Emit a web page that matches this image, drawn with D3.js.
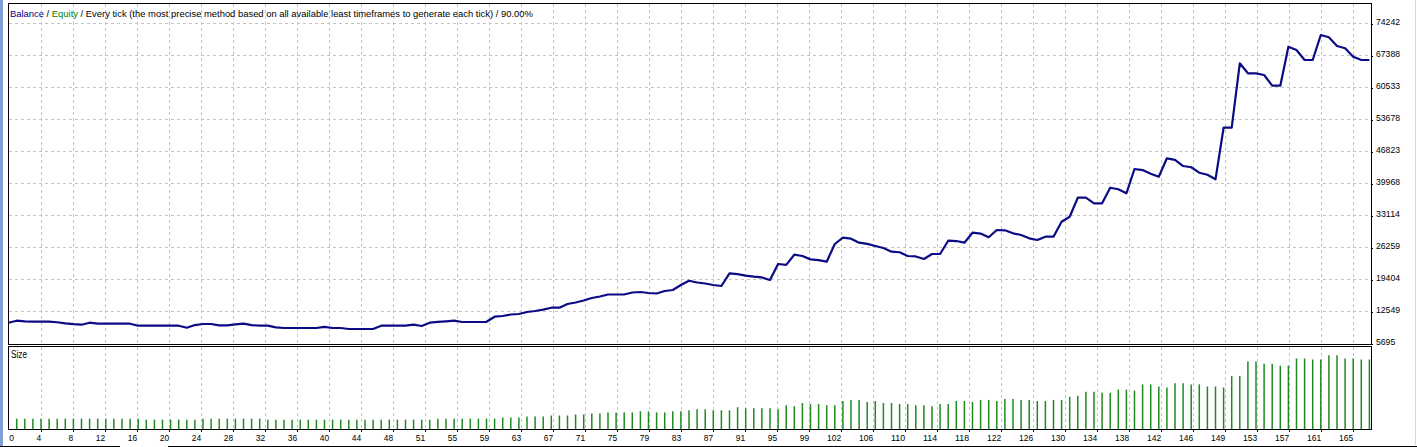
<!DOCTYPE html>
<html>
<head>
<meta charset="utf-8">
<script src="https://cdn.jsdelivr.net/npm/d3@7"></script>
<style>
  body { margin: 0; background: #ffffff; }
  svg { display: block; font-family: "Liberation Sans", Arial, sans-serif; }
</style>
</head>
<body>
<svg id="drawing_region"></svg>
<script>
// balance after each trade (index 0 = start)
const balance = [
    10107, 10536, 10400, 10322, 10322, 10322, 10200, 9979, 9800, 9679,
    10107, 9893, 9893, 9893, 9893, 9893, 9465, 9465, 9465, 9465,
    9465, 9465, 9037, 9600, 9829, 9829, 9551, 9551, 9750, 9893,
    9600, 9465, 9465, 9100, 8972, 8972, 8972, 8972, 8972, 9200,
    8972, 8972, 8758, 8758, 8758, 8758, 9465, 9465, 9465, 9465,
    9679, 9401, 10107, 10300, 10400, 10536, 10258, 10258, 10258, 10300,
    11393, 11543, 11865, 11971, 12400, 12614, 12900, 13321, 13321, 14113,
    14434, 14862, 15400, 15720, 16148, 16148, 16148, 16577, 16684, 16470,
    16362, 16898, 17112, 18183, 19104, 18718, 18504, 18183, 17968, 20689,
    20500, 20200, 19961, 19800, 19254, 22680, 22500, 24673, 24400, 23670,
    23500, 23174, 26965, 28314, 28100, 27244, 27000, 26536, 26100, 25316,
    25200, 24395, 24300, 23752, 24823, 24823, 27672, 27600, 27244, 29386,
    29200, 28400, 29964, 29900, 29257, 28900, 28185, 27822, 28528, 28528,
    31741, 32812, 36883, 36883, 35682, 35682, 39024, 38700, 37825, 43030,
    42800, 42000, 41381, 45322, 45000, 43673, 43400, 42238, 41800, 40823,
    51877, 51877, 65671, 63529, 63529, 63165, 60873, 60873, 69227, 68520,
    66378, 66378, 71730, 71240, 69378, 68884, 67083, 66378, 66378
];

// lot size of trades 1..168
const lotSize = [
    0.10, 0.10, 0.10, 0.10, 0.10, 0.10, 0.10, 0.10, 0.10, 0.10,
    0.10, 0.10, 0.10, 0.10, 0.10, 0.10, 0.09, 0.09, 0.09, 0.09,
    0.09, 0.09, 0.09, 0.10, 0.10, 0.10, 0.10, 0.10, 0.10, 0.10,
    0.10, 0.09, 0.09, 0.09, 0.09, 0.09, 0.09, 0.09, 0.09, 0.09,
    0.09, 0.09, 0.09, 0.09, 0.09, 0.09, 0.09, 0.09, 0.09, 0.09,
    0.09, 0.09, 0.10, 0.10, 0.10, 0.10, 0.10, 0.10, 0.10, 0.10,
    0.11, 0.11, 0.11, 0.12, 0.12, 0.12, 0.13, 0.13, 0.13, 0.14,
    0.14, 0.15, 0.15, 0.16, 0.16, 0.16, 0.16, 0.17, 0.17, 0.16,
    0.16, 0.17, 0.17, 0.18, 0.19, 0.19, 0.18, 0.18, 0.18, 0.21,
    0.20, 0.20, 0.20, 0.20, 0.19, 0.23, 0.22, 0.25, 0.24, 0.24,
    0.23, 0.23, 0.27, 0.28, 0.28, 0.26, 0.27, 0.25, 0.25, 0.24,
    0.24, 0.23, 0.23, 0.22, 0.24, 0.24, 0.27, 0.27, 0.26, 0.28,
    0.28, 0.27, 0.29, 0.29, 0.28, 0.28, 0.27, 0.27, 0.28, 0.28,
    0.31, 0.32, 0.36, 0.36, 0.35, 0.35, 0.38, 0.38, 0.37, 0.43,
    0.43, 0.41, 0.40, 0.44, 0.44, 0.43, 0.43, 0.41, 0.41, 0.40,
    0.51, 0.51, 0.65, 0.65, 0.63, 0.63, 0.61, 0.61, 0.68, 0.68,
    0.67, 0.67, 0.71, 0.71, 0.68, 0.68, 0.67, 0.67
];

const yTickValues = [5695, 12549, 19404, 26259, 33114, 39968, 46823, 53678, 60533, 67388, 74242];

const xTickLabels = [0, 4, 8, 12, 16, 20, 24, 28, 32, 36, 40, 44, 48,
    51, 55, 59, 63, 67, 71, 75, 79, 83, 87, 91, 95, 99,
    102, 106, 110, 114, 118, 122, 126, 130, 134, 138, 142, 146,
    149, 153, 157, 161, 165];

const headerParts = [
    { text: 'Balance', color: '#00007f' },
    { text: ' / ', color: '#000000' },
    { text: 'Equity', color: '#008000' },
    { text: ' / Every tick (the most precise method based on all available least timeframes to generate each tick) / 90.00%', color: '#000000' }
];

class TesterGraph {
    constructor(config, data) {
        this.config = {
            parent: config.parent,
            width: config.width || 1417,
            height: config.height || 447,
            main: config.main,
            size: config.size
        };
        this.data = data;
        this.init();
    }

    init() {
        let self = this;
        const m = self.config.main;
        const s = self.config.size;

        self.svg = d3.select(self.config.parent)
            .attr('width', self.config.width)
            .attr('height', self.config.height);

        self.xscale = d3.scaleLinear()
            .domain([0, self.data.balance.length - 1])
            .range([m.left + 0.6, m.right - 1.6]);

        self.gridscale = d3.scaleLinear()
            .domain([0, self.data.xLabels.length - 1])
            .range([m.left + 0.7, m.left + 0.7 + 32 * (self.data.xLabels.length - 1)]);

        self.yscale = d3.scaleLinear()
            .domain([yTickValues[0], yTickValues[yTickValues.length - 1]])
            .range([m.bottom - 0.7, 23.3]);

        self.sizescale = d3.scaleLinear()
            .domain([0, 0.8])
            .range([s.bottom, s.top]);
    }

    render() {
        let self = this;
        const m = self.config.main;
        const s = self.config.size;
        const crisp = v => Math.round(v) + 0.5;

        // window chrome
        self.svg.append('rect')
            .attr('x', 0).attr('y', 0).attr('width', 3).attr('height', self.config.height)
            .attr('fill', '#7f9fd4');
        self.svg.append('line')
            .attr('x1', 1415.5).attr('x2', 1415.5).attr('y1', 0).attr('y2', 445)
            .attr('stroke', '#d8d8d8');
        [[0, 120], [168, 1417]].forEach(seg => {
            self.svg.append('line')
                .attr('x1', seg[0]).attr('x2', seg[1]).attr('y1', 446.5).attr('y2', 446.5)
                .attr('stroke', '#000');
        });

        const grid = self.svg.append('g')
            .attr('stroke', '#c4c4c4')
            .attr('stroke-dasharray', '3,3');

        grid.selectAll('.hgrid')
            .data(yTickValues.slice(1))
            .enter().append('line')
            .attr('x1', m.left + 1).attr('x2', m.right)
            .attr('y1', d => crisp(self.yscale(d)))
            .attr('y2', d => crisp(self.yscale(d)));

        const kIdx = d3.range(1, self.data.xLabels.length);
        grid.selectAll('.vgrid')
            .data(kIdx)
            .enter().append('line')
            .attr('x1', k => crisp(self.gridscale(k)))
            .attr('x2', k => crisp(self.gridscale(k)))
            .attr('y1', m.top + 1).attr('y2', m.bottom);
        grid.selectAll('.vgrid2')
            .data(kIdx)
            .enter().append('line')
            .attr('x1', k => crisp(self.gridscale(k)))
            .attr('x2', k => crisp(self.gridscale(k)))
            .attr('y1', s.top + 1).attr('y2', s.bottom);

        // size histogram
        self.svg.append('g').selectAll('line')
            .data(self.data.lots)
            .enter().append('line')
            .attr('x1', (d, i) => self.xscale(i + 1))
            .attr('x2', (d, i) => self.xscale(i + 1))
            .attr('y1', self.sizescale(0))
            .attr('y2', d => self.sizescale(d))
            .attr('stroke', '#1f8a1f')
            .attr('stroke-width', 1.5);

        // balance line
        const line = d3.line()
            .x((d, i) => self.xscale(i))
            .y(d => self.yscale(d));
        self.svg.append('path')
            .datum(self.data.balance)
            .attr('d', line)
            .attr('fill', 'none')
            .attr('stroke', '#0b0b85')
            .attr('stroke-width', 2.2)
            .attr('stroke-linejoin', 'round');

        // frames
        self.svg.append('rect')
            .attr('x', m.left + 0.5).attr('y', m.top + 0.5)
            .attr('width', m.right - m.left).attr('height', m.bottom - m.top)
            .attr('fill', 'none').attr('stroke', '#000');
        self.svg.append('rect')
            .attr('x', m.left + 0.5).attr('y', s.top + 0.5)
            .attr('width', m.right - m.left).attr('height', s.bottom - s.top)
            .attr('fill', 'none').attr('stroke', '#000');

        // y labels
        const ylab = self.svg.append('g');
        yTickValues.forEach(v => {
            const cy = self.yscale(v) - 2;
            ylab.append('rect')
                .attr('x', m.right + 1).attr('y', Math.round(cy + 2.5))
                .attr('width', 1).attr('height', 1).attr('fill', '#000');
            ylab.append('text')
                .attr('x', m.right + 5)
                .attr('y', cy + 3.6)
                .attr('font-size', '9.6px')
                .attr('fill', '#000')
                .attr('textLength', String(v).length * 4.8)
                .attr('lengthAdjust', 'spacingAndGlyphs')
                .text(v);
        });

        // x labels + ticks
        const xlab = self.svg.append('g');
        self.data.xLabels.forEach((lab, k) => {
            const gx = self.gridscale(k);
            if (k > 0) {
                xlab.append('line')
                    .attr('x1', crisp(gx)).attr('x2', crisp(gx))
                    .attr('y1', s.bottom + 1).attr('y2', s.bottom + 3)
                    .attr('stroke', '#000');
            }
            xlab.append('text')
                .attr('x', gx + 0.5)
                .attr('y', s.bottom + 12)
                .attr('text-anchor', k === 0 ? 'start' : 'end')
                .attr('font-size', '9.6px')
                .attr('fill', '#000')
                .attr('textLength', String(lab).length * 4.7)
                .attr('lengthAdjust', 'spacingAndGlyphs')
                .text(lab);
        });

        // header: font size picked so the whole line spans the reference width
        const targetWidth = 524;
        const probe = self.svg.append('text').attr('font-size', '10px')
            .style('white-space', 'pre')
            .text(headerParts.map(p => p.text).join(''));
        const headerSize = 10 * targetWidth / probe.node().getComputedTextLength();
        probe.attr('font-size', headerSize + 'px');
        const widths = headerParts.map(p => {
            probe.text(p.text);
            return probe.node().getComputedTextLength();
        });
        probe.remove();
        let hx = m.left + 2;
        headerParts.forEach((p, i) => {
            self.svg.append('text')
                .attr('x', hx)
                .attr('y', 16.5)
                .attr('font-size', headerSize + 'px')
                .attr('fill', p.color)
                .style('white-space', 'pre')
                .text(p.text);
            hx += widths[i];
        });

        self.svg.append('text')
            .attr('x', m.left + 3)
            .attr('y', s.top + 12)
            .attr('font-size', '10px')
            .attr('textLength', 16)
            .attr('lengthAdjust', 'spacingAndGlyphs')
            .text('Size');
    }
}

const graph = new TesterGraph({
    parent: '#drawing_region',
    width: 1417,
    height: 447,
    main: { left: 8, right: 1371, top: 3, bottom: 344 },
    size: { top: 346, bottom: 429 }
}, { balance: balance, lots: lotSize, xLabels: xTickLabels });
graph.render();
</script>
</body>
</html>
